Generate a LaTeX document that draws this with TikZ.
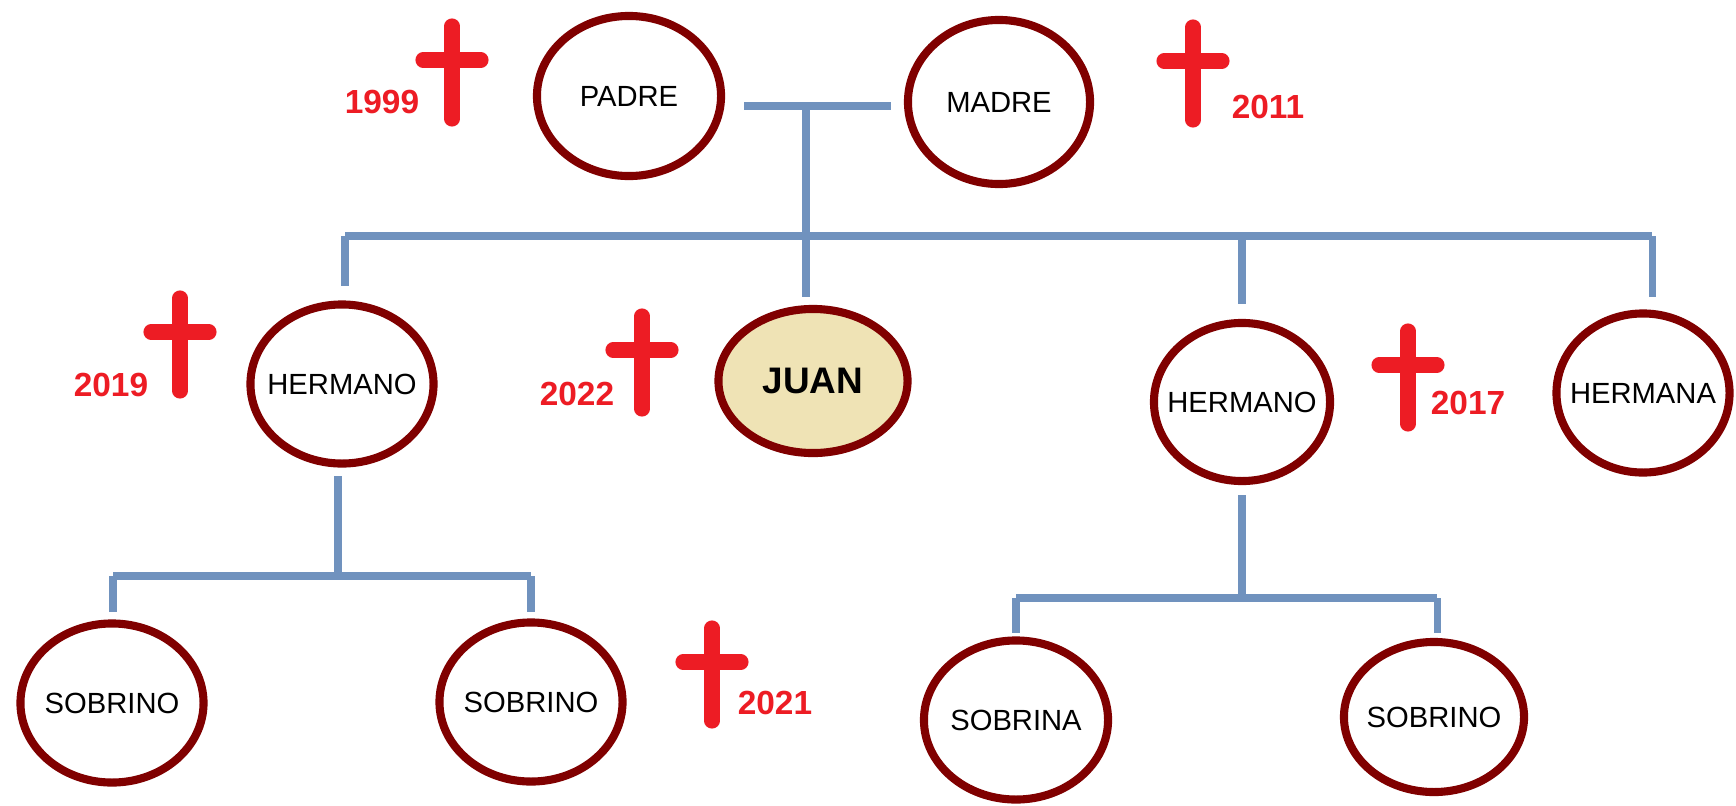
\documentclass[tikz,border=0pt]{standalone}
\usepackage{fontspec}
\setmainfont{Liberation Sans}
\usetikzlibrary{shapes.geometric}

\definecolor{borde}{RGB}{128,0,0}
\definecolor{rama}{RGB}{112,146,190}
\definecolor{rojo}{RGB}{237,28,36}
\definecolor{arena}{RGB}{239,227,181}

\newcommand{\rotulo}[1]{\makebox[0pt]{#1}}
\newcommand{\cruz}[2]{%
  \draw[cruz] (#1-29,#2) -- (#1+29,#2);
  \draw[cruz] (#1,#2-34) -- (#1,#2+59);
}

\begin{document}
\begin{tikzpicture}[x=0.01cm, y=-0.01cm]
  \tikzstyle{persona} = [ellipse, draw=borde, line width=2.3pt, inner sep=0pt, minimum width=1.83cm, minimum height=1.59cm, text=black, font=\fontsize{8.3}{9}\selectfont]
  \tikzstyle{rama} = [draw=rama, line width=2pt]
  \tikzstyle{cruz} = [draw=rojo, line width=4.3pt, line cap=round]
  \tikzstyle{fecha} = [text=rojo, inner sep=0pt, font=\bfseries\fontsize{9.5}{10}\selectfont]

  \useasboundingbox[fill=white] (0,0) rectangle (1736,806);

  % padres
  \node[persona, minimum width=1.84cm, minimum height=1.6cm] (padre) at (629,96) {\rotulo{PADRE}};
  \node[persona, minimum width=1.82cm, minimum height=1.64cm] (madre) at (999,102) {\rotulo{MADRE}};

  % hermanos
  \node[persona] (hermanoA) at (342,384) {\rotulo{HERMANO}};
  \node[persona, fill=arena, minimum width=1.89cm, minimum height=1.44cm, font=\bfseries\fontsize{10.5}{12}\selectfont] (juan) at (813,381) {\rotulo{JUAN}};
  \node[persona, minimum width=1.76cm, minimum height=1.58cm] (hermanoB) at (1242,402) {\rotulo{HERMANO}};
  \node[persona, minimum width=1.73cm] (hermana) at (1643,393) {\rotulo{HERMANA}};

  % sobrinos
  \node[persona] (sobrinoA) at (112,703) {\rotulo{SOBRINO}};
  \node[persona] (sobrinoB) at (531,702) {\rotulo{SOBRINO}};
  \node[persona, minimum width=1.84cm] (sobrina) at (1016,720) {\rotulo{SOBRINA}};
  \node[persona, minimum width=1.8cm, minimum height=1.5cm] (sobrinoC) at (1434,717) {\rotulo{SOBRINO}};

  % ramas
  \coordinate (up) at (744,106);
  \coordinate (um) at (891,106);
  \coordinate (union) at (806,106);
  \coordinate (hijos) at (806,236);
  \coordinate (h1) at (345,236);
  \coordinate (h3) at (1242,236);
  \coordinate (h4) at (1652,236);
  \coordinate (d1) at (345,286);
  \coordinate (d2) at (806,297);
  \coordinate (d3) at (1242,304);
  \coordinate (d4) at (1652,297);

  \draw[rama] (up) -- (um);
  \draw[rama] (union) -- (hijos);
  \draw[rama] (h1) -- (h4);
  \draw[rama] (h1) -- (d1);
  \draw[rama] (hijos) -- (d2);
  \draw[rama] (h3) -- (d3);
  \draw[rama] (h4) -- (d4);

  \coordinate (a0) at (338,476);
  \coordinate (a1) at (338,576);
  \coordinate (aL) at (113,576);
  \coordinate (aR) at (531,576);
  \coordinate (aL2) at (113,612);
  \coordinate (aR2) at (531,612);
  \draw[rama] (a0) -- (a1);
  \draw[rama] (aL) -- (aR);
  \draw[rama] (aL) -- (aL2);
  \draw[rama] (aR) -- (aR2);

  \coordinate (b0) at (1242,495);
  \coordinate (b1) at (1242,598);
  \coordinate (bL) at (1016,598);
  \coordinate (bR) at (1437,598);
  \coordinate (bL2) at (1016,633);
  \coordinate (bR2) at (1437,633);
  \draw[rama] (b0) -- (b1);
  \draw[rama] (bL) -- (bR);
  \draw[rama] (bL) -- (bL2);
  \draw[rama] (bR) -- (bR2);

  % cruces
  \cruz{452}{60}
  \cruz{1193}{61}
  \cruz{180}{332}
  \cruz{642}{350}
  \cruz{1408}{365}
  \cruz{712}{662}

  \node[fecha] (f1999) at (382,102) {1999};
  \node[fecha] (f2011) at (1268,107) {2011};
  \node[fecha] (f2019) at (111,385) {2019};
  \node[fecha] (f2022) at (577,394) {2022};
  \node[fecha] (f2017) at (1468,403) {2017};
  \node[fecha] (f2021) at (775,703) {2021};

\end{tikzpicture}
\end{document}
